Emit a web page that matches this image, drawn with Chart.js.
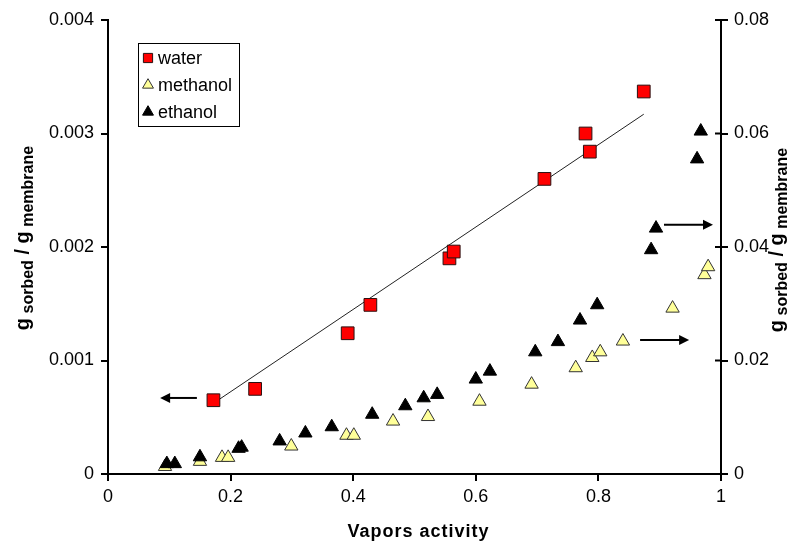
<!DOCTYPE html>
<html lang="en">
<head>
  <meta charset="UTF-8">
  <title>Vapor sorption</title>
  <script src="https://cdn.jsdelivr.net/npm/chart.js"></script>
  <style>
    html, body { margin: 0; padding: 0; background: #fff; }
    #wrap { width: 808px; height: 543px; position: relative; }
  </style>
</head>
<body>
  <div id="wrap"><canvas id="sorption"></canvas></div>
  <script>
    // water uptake (left axis)
    const waterX = [0.172, 0.240, 0.391, 0.428, 0.557, 0.564, 0.712, 0.779, 0.786, 0.874];
    const waterY = [0.00065, 0.00075, 0.00124, 0.00149, 0.00190, 0.00196, 0.00260, 0.00300, 0.00284, 0.00337];

    // linear fit through the water points
    const fitX = [0.175, 0.874];
    const fitY = [0.000634, 0.00317];

    // methanol uptake (right axis)
    const methanolX = [0.093, 0.150, 0.186, 0.196, 0.299, 0.389, 0.401, 0.465, 0.522, 0.606, 0.691, 0.763, 0.790, 0.803, 0.840, 0.921, 0.973, 0.979];
    const methanolY = [0.0013, 0.0022, 0.0029, 0.0029, 0.0049, 0.0068, 0.0068, 0.0093, 0.0101, 0.0128, 0.0158, 0.0187, 0.0205, 0.0215, 0.0234, 0.0292, 0.0351, 0.0365];

    // ethanol uptake (right axis)
    const ethanolX = [0.096, 0.109, 0.150, 0.213, 0.218, 0.280, 0.322, 0.365, 0.431, 0.485, 0.515, 0.537, 0.600, 0.623, 0.697, 0.734, 0.770, 0.798, 0.886, 0.894, 0.961, 0.967];
    const ethanolY = [0.0018, 0.0018, 0.0030, 0.0045, 0.0047, 0.0058, 0.0072, 0.0083, 0.0105, 0.0120, 0.0134, 0.0140, 0.0167, 0.0181, 0.0215, 0.0233, 0.0271, 0.0298, 0.0395, 0.0433, 0.0555, 0.0604];

    const xTicks = [0, 0.2, 0.4, 0.6, 0.8, 1];
    const leftTicks = [0, 0.001, 0.002, 0.003, 0.004];
    const rightTicks = [0, 0.02, 0.04, 0.06, 0.08];

    const legendNames = ['water', 'methanol', 'ethanol'];

    // arrows pointing each group at its axis
    const arrowFromX = [0.145, 0.868, 0.907];
    const arrowToX = [0.085, 0.948, 0.987];
    const arrowY = [0.00067, 0.0236, 0.0439];
    const arrowAxis = ['y', 'y2', 'y2'];

    const pts = (xs, ys) => xs.map((x, i) => ({ x: x, y: ys[i] }));
    const FONT = '"Liberation Sans", Arial, sans-serif';

    const styles = {
      water: { pointStyle: 'rect', radius: 9, bg: '#ff0000', border: '#2a1010' },
      methanol: { pointStyle: 'triangle', radius: 7.7, bg: '#ffff99', border: '#333333' },
      ethanol: { pointStyle: 'triangle', radius: 7.7, bg: '#000000', border: '#000000' }
    };

    function drawMarker(ctx, st, x, y, r) {
      Chart.helpers.drawPoint(ctx, { pointStyle: st.pointStyle, radius: r, borderWidth: 1 }, x, y);
    }

    // legend box, arrows, crossing ticks and axis titles
    const extras = {
      id: 'extras',
      afterDraw(chart) {
        const ctx = chart.ctx;
        const sx = chart.scales.x;
        const area = chart.chartArea;
        ctx.save();

        // arrows
        ctx.strokeStyle = '#000';
        ctx.fillStyle = '#000';
        ctx.lineWidth = 2;
        arrowFromX.forEach((fx, i) => {
          const sy = chart.scales[arrowAxis[i]];
          const x0 = sx.getPixelForValue(fx);
          const x1 = sx.getPixelForValue(arrowToX[i]);
          const y = sy.getPixelForValue(arrowY[i]);
          const dir = x1 > x0 ? 1 : -1;
          ctx.beginPath();
          ctx.moveTo(x0, y);
          ctx.lineTo(x1 - dir * 8, y);
          ctx.stroke();
          ctx.beginPath();
          ctx.moveTo(x1, y);
          ctx.lineTo(x1 - dir * 10, y - 5);
          ctx.lineTo(x1 - dir * 10, y + 5);
          ctx.closePath();
          ctx.fill();
        });

        // right axis ticks cross into the plot
        const y2 = chart.scales.y2;
        ctx.lineWidth = 2;
        rightTicks.forEach(v => {
          const y = y2.getPixelForValue(v);
          ctx.beginPath();
          ctx.moveTo(area.right - 6, y);
          ctx.lineTo(area.right, y);
          ctx.stroke();
        });

        // legend
        ctx.lineWidth = 1;
        ctx.strokeStyle = '#000';
        ctx.strokeRect(138.5, 43.5, 101, 83);
        ctx.font = '18px ' + FONT;
        ctx.textBaseline = 'middle';
        ctx.textAlign = 'left';
        legendNames.forEach((name, i) => {
          const st = styles[name];
          const y = 58 + i * 27;
          ctx.fillStyle = st.bg;
          ctx.strokeStyle = st.border;
          drawMarker(ctx, st, 148, y, st.pointStyle === 'rect' ? 6.5 : 6.3);
          ctx.fillStyle = '#000';
          ctx.fillText(name, 158, y + 1);
        });

        // x title
        ctx.font = 'bold 18px ' + FONT;
        ctx.letterSpacing = '1px';
        ctx.textAlign = 'center';
        ctx.textBaseline = 'middle';
        ctx.fillText('Vapors activity', (area.left + area.right) / 2 + 4, 532);
        ctx.letterSpacing = '0px';

        // y titles with subscripts
        drawYTitle(ctx, 29, 238);
        drawYTitle(ctx, 783, 240);

        ctx.restore();
      }
    };

    function drawYTitle(ctx, baseX, centerY) {
      const big = 'bold 20px ' + FONT;
      const small = 'bold 16px ' + FONT;
      const parts = [
        ['g', big, 0], [' sorbed', small, 4], [' / ', big, 0], ['g', big, 0], [' membrane', small, 4]
      ];
      let total = 0;
      parts.forEach(p => { ctx.font = p[1]; total += ctx.measureText(p[0]).width; });
      ctx.save();
      ctx.translate(baseX, centerY);
      ctx.rotate(-Math.PI / 2);
      ctx.textAlign = 'left';
      ctx.textBaseline = 'alphabetic';
      ctx.fillStyle = '#000';
      let x = -total / 2;
      parts.forEach(p => {
        ctx.font = p[1];
        ctx.fillText(p[0], x, p[2]);
        x += ctx.measureText(p[0]).width;
      });
      ctx.restore();
    }

    const tickFont = { family: FONT, size: 18 };
    const axisGrid = { drawOnChartArea: false, color: '#000', lineWidth: 2, tickLength: 7 };
    const axisBorder = { color: '#000', width: 2 };

    new Chart(document.getElementById('sorption'), {
      type: 'scatter',
      data: {
        datasets: [
          {
            label: 'water', data: pts(waterX, waterY), yAxisID: 'y',
            pointStyle: 'rect', pointRadius: styles.water.radius,
            backgroundColor: styles.water.bg, borderColor: styles.water.border, borderWidth: 1
          },
          {
            label: 'ethanol', data: pts(ethanolX, ethanolY), yAxisID: 'y2',
            pointStyle: 'triangle', pointRadius: styles.ethanol.radius,
            backgroundColor: styles.ethanol.bg, borderColor: styles.ethanol.border, borderWidth: 1
          },
          {
            label: 'methanol', data: pts(methanolX, methanolY), yAxisID: 'y2',
            pointStyle: 'triangle', pointRadius: styles.methanol.radius,
            backgroundColor: styles.methanol.bg, borderColor: styles.methanol.border, borderWidth: 1
          },
          {
            label: 'fit', type: 'line', data: pts(fitX, fitY), yAxisID: 'y',
            showLine: true, pointRadius: 0, borderColor: '#222', borderWidth: 1, fill: false
          }
        ]
      },
      options: {
        responsive: true,
        maintainAspectRatio: false,
        animation: false,
        events: [],
        layout: { padding: { top: 20, left: 0, right: 0, bottom: 0 } },
        plugins: { legend: { display: false }, tooltip: { enabled: false } },
        scales: {
          x: {
            type: 'linear', min: 0, max: 1,
            afterBuildTicks: s => { s.ticks = xTicks.map(v => ({ value: v })); },
            afterFit: s => { s.height = 69; },
            ticks: { font: tickFont, color: '#000', padding: 5, maxRotation: 0, callback: v => String(v) },
            grid: axisGrid, border: axisBorder
          },
          y: {
            type: 'linear', position: 'left', min: 0, max: 0.004,
            afterBuildTicks: s => { s.ticks = leftTicks.map(v => ({ value: v })); },
            afterFit: s => { s.width = 108; },
            ticks: { font: tickFont, color: '#000', padding: 7, callback: v => v === 0 ? '0' : v.toFixed(3) },
            grid: axisGrid, border: axisBorder
          },
          y2: {
            type: 'linear', position: 'right', min: 0, max: 0.08,
            afterBuildTicks: s => { s.ticks = rightTicks.map(v => ({ value: v })); },
            afterFit: s => { s.width = 87; },
            ticks: { font: tickFont, color: '#000', padding: 6, callback: v => v === 0 ? '0' : v.toFixed(2) },
            grid: axisGrid, border: axisBorder
          }
        }
      },
      plugins: [extras]
    });
  </script>
</body>
</html>
